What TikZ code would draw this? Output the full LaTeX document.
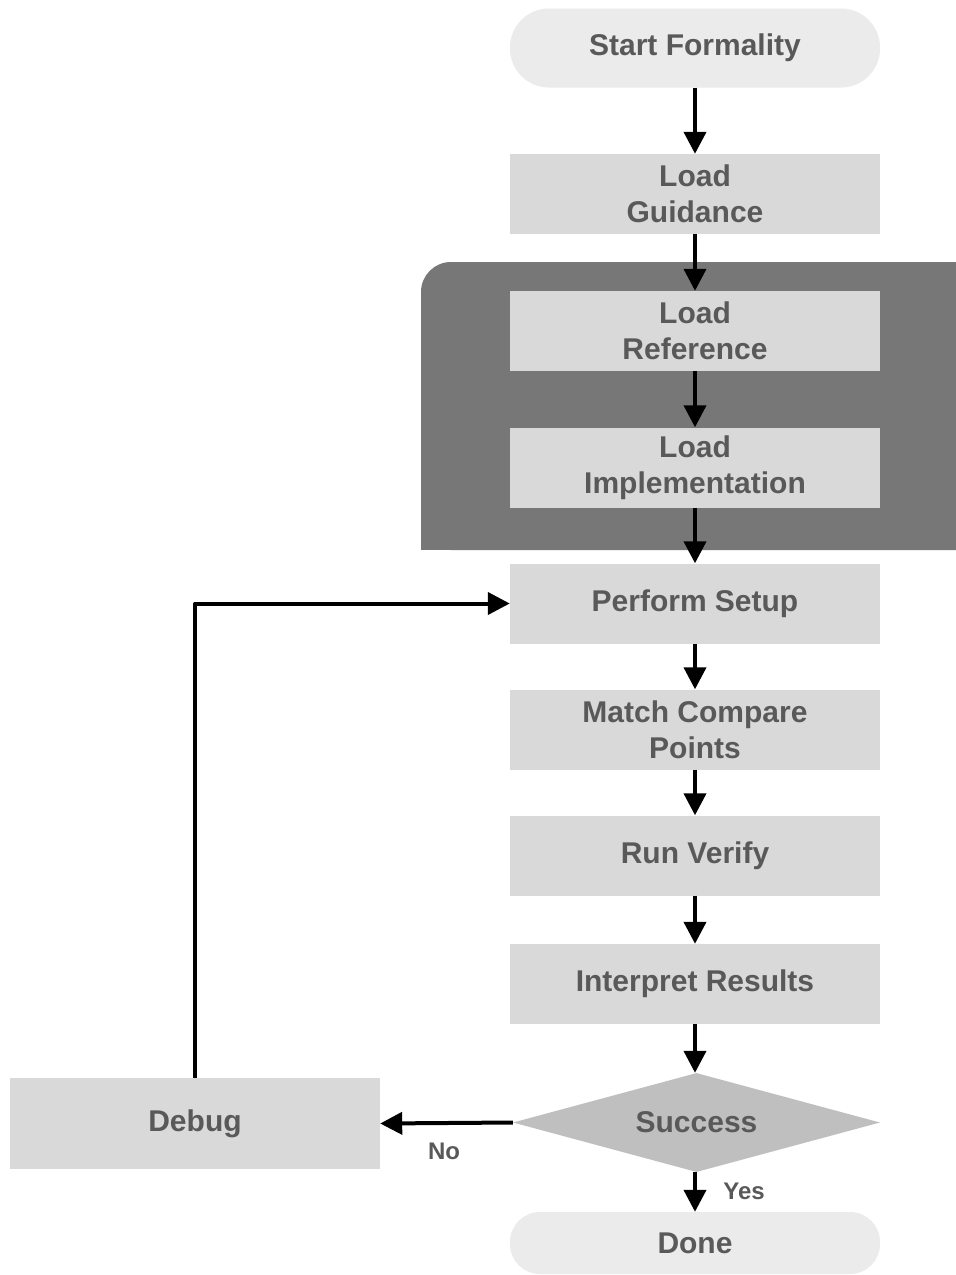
\documentclass[tikz,border=0pt]{standalone}
\usepackage{fontspec}
\setmainfont{Liberation Sans}
\usetikzlibrary{shapes.geometric,arrows.meta}
\definecolor{boxfill}{HTML}{D9D9D9}
\definecolor{termfill}{HTML}{EBEBEB}
\definecolor{decfill}{HTML}{BFBFBF}
\definecolor{grpfill}{HTML}{777777}
\definecolor{txt}{HTML}{595959}
\begin{document}
\begin{tikzpicture}[x=1pt,y=-1pt,
 base/.style={font=\bfseries\fontsize{30}{36}\selectfont, text=txt, align=center, inner sep=0pt},
 stepbox/.style={base, fill=boxfill, minimum width=370pt, minimum height=80pt},
 term/.style={base, fill=termfill, minimum width=370pt, minimum height=79pt, rounded corners=39pt},
 dec/.style={base, diamond, aspect=3.7, fill=decfill, minimum width=367pt, minimum height=99pt},
 conn/.style={draw=black, line width=4pt, line join=round, -{Triangle[length=22pt,width=22pt]}},
 lbl/.style={font=\bfseries\fontsize{24}{28}\selectfont, text=txt, inner sep=0pt}
]
\useasboundingbox[fill=white] (0,0) rectangle (956,1275);
% group background
\fill[grpfill, rounded corners=30pt] (421,262) rectangle (986,550);
\fill[grpfill] (421,510) rectangle (470,550);
\fill[grpfill] (900,262) rectangle (986,300);

\node[term] (start) at (695,48) {Start Formality};
\node[stepbox] (guid) at (695,194) {Load\\Guidance};
\node[stepbox] (ref) at (695,331) {Load\\Reference};
\node[stepbox] (impl) at (695,467.5) {Load\\Implementation};
\node[stepbox] (setup) at (695,603.5) {Perform Setup};
\node[stepbox] (match) at (695,729.5) {Match Compare\\Points};
\node[stepbox] (run) at (695,855.5) {Run Verify};
\node[stepbox] (interp) at (695,984) {Interpret Results};
\node[dec] (succ) at (696.5,1122.5) {Success};
\node[term, minimum height=62pt, rounded corners=30pt] (done) at (695,1243) {Done};
\node[stepbox, minimum height=91pt] (debug) at (195,1123.5) {Debug};

\draw[conn] (start.south) -- (guid.north);
\draw[conn] (guid.south) -- (ref.north);
\draw[conn] (ref.south) -- (impl.north);
\draw[conn] (impl.south) -- (setup.north);
\draw[conn] (setup.south) -- (match.north);
\draw[conn] (match.south) -- (run.north);
\draw[conn] (run.south) -- (interp.north);
\draw[conn] (interp.south) -- (interp.south |- succ.north);
\draw[conn] (succ.south -| done.north) -- (done.north);
\draw[conn] (succ.west) -- (debug.east);
\draw[conn] (debug.north) |- (setup.west);

\node[lbl] (no) at (444,1151) {No};
\node[lbl] (yes) at (744,1191) {Yes};
\end{tikzpicture}
\end{document}
